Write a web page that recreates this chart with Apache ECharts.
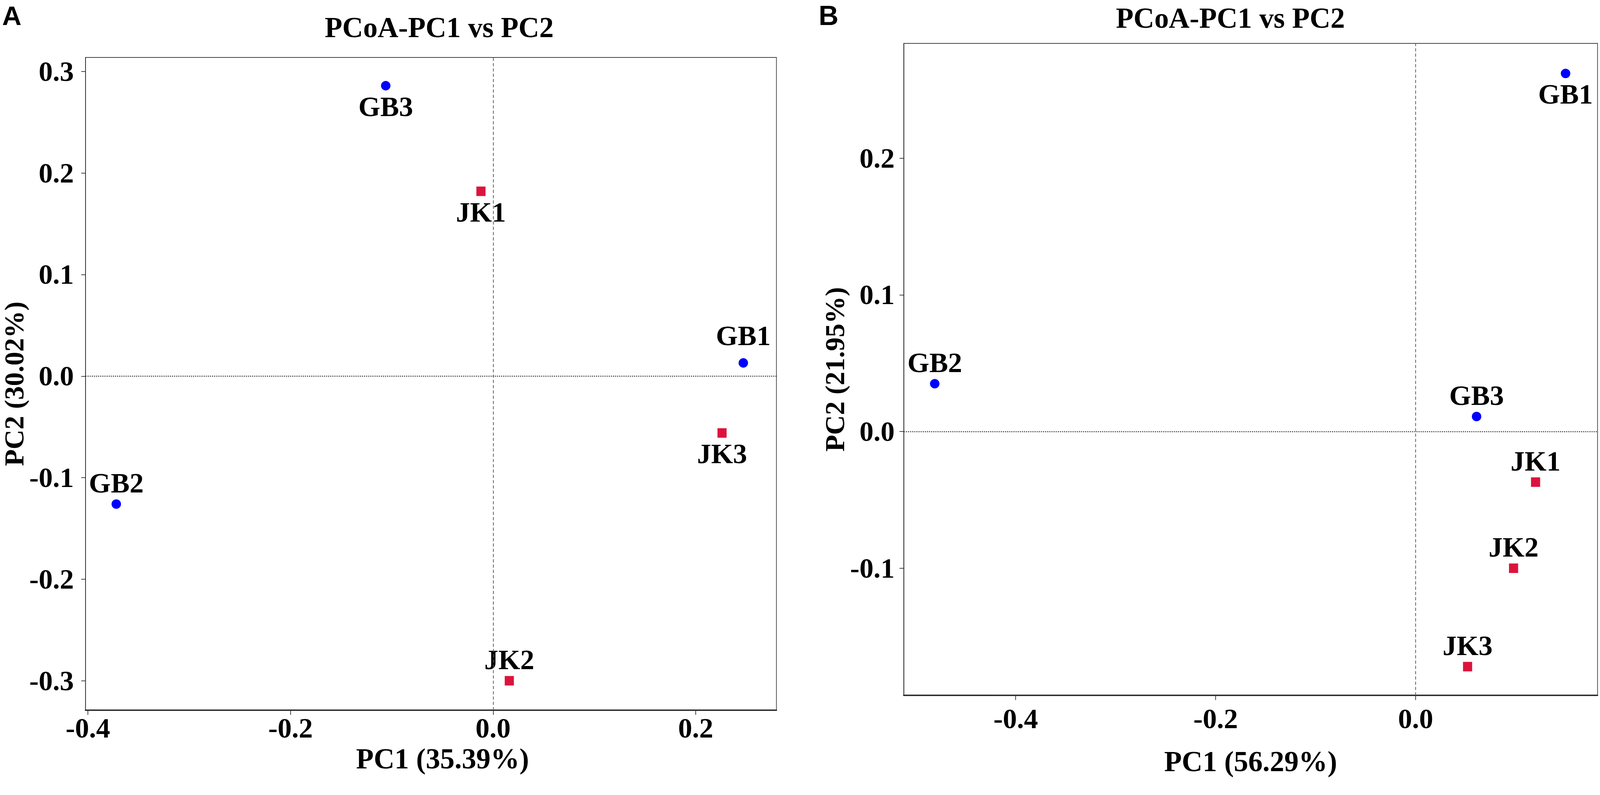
<!DOCTYPE html>
<html>
<head>
<meta charset="utf-8">
<title>PCoA-PC1 vs PC2</title>
<script src="https://cdn.jsdelivr.net/npm/echarts@6/dist/echarts.min.js"></script>
<style>
  html, body { margin: 0; padding: 0; background: #fff; overflow: hidden; }
  #chart { width: 100vw; height: 100vh; }
</style>
</head>
<body>
<div id="chart"></div>
<script>
// sample names, same order in both panels
const sampleNames = ['GB1', 'GB2', 'GB3', 'JK1', 'JK2', 'JK3'];

// panel A
const pc1A = [0.247, -0.372, -0.106, -0.012, 0.016, 0.226];
const pc2A = [0.013, -0.126, 0.286, 0.182, -0.300, -0.056];
const labelPosA = ['top', 'top', 'bottom', 'bottom', 'top', 'bottom'];
const xTicksA = [-0.4, -0.2, 0.0, 0.2];
const yTicksA = [-0.3, -0.2, -0.1, 0.0, 0.1, 0.2, 0.3];

// panel B
const pc1B = [0.150, -0.481, 0.061, 0.120, 0.098, 0.052];
const pc2B = [0.262, 0.035, 0.011, -0.037, -0.100, -0.172];
const labelPosB = ['bottom', 'top', 'top', 'top', 'top', 'top'];
const xTicksB = [-0.4, -0.2, 0.0];
const yTicksB = [-0.1, 0.0, 0.1, 0.2];

const titleText = 'PCoA-PC1 vs PC2';
const xNameA = 'PC1 (35.39%)', yNameA = 'PC2 (30.02%)';
const xNameB = 'PC1 (56.29%)', yNameB = 'PC2 (21.95%)';

const FONT = 'Liberation Serif';
const GB_COLOR = '#0000FF';
const JK_COLOR = '#DC143C';

const el = document.getElementById('chart');
const chart = echarts.init(el, null, { renderer: 'svg' });

// layout was measured on a 4550 x 2034 page; scale to whatever the viewport is
const W = el.clientWidth || window.innerWidth;
const H = el.clientHeight || window.innerHeight;
const sx = W / 4550, sy = H / 2034, s = Math.min(sx, sy);
const X = v => v * sx, Y = v => v * sy, S = v => v * s;

const textStyle = { fontFamily: FONT, fontWeight: 'bold', fontSize: S(80), color: '#000' };

// split one panel's samples into the GB / JK groups
const makeGroup = (prefix, pc1, pc2, pos, extra) => {
  const out = [];
  sampleNames.forEach((n, i) => {
    if (n.indexOf(prefix) !== 0) return;
    const item = { name: n, value: [pc1[i], pc2[i]], label: { position: pos[i] } };
    if (extra[n]) Object.assign(item.label, extra[n]);
    out.push(item);
  });
  return out;
};

const zeroLines = {
  silent: true,
  symbol: ['none', 'none'],
  label: { show: false },
  animation: false,
  data: [
    { xAxis: 0, lineStyle: { color: '#555', width: S(2), type: [S(9), S(6)] } },
    { yAxis: 0, lineStyle: { color: '#333', width: S(3), type: [S(3), S(3)] } }
  ]
};

const pointLabel = {
  show: true,
  formatter: '{b}',
  distance: S(6),
  ...textStyle
};

const makeSeries = (idx, pc1, pc2, pos, extra) => [
  {
    type: 'scatter',
    xAxisIndex: idx, yAxisIndex: idx,
    symbol: 'circle',
    symbolSize: S(27),
    itemStyle: { color: GB_COLOR, opacity: 1 },
    label: pointLabel,
    data: makeGroup('GB', pc1, pc2, pos, extra),
    markLine: zeroLines
  },
  {
    type: 'scatter',
    xAxisIndex: idx, yAxisIndex: idx,
    symbol: 'rect',
    symbolSize: [S(26), S(27)],
    itemStyle: { color: JK_COLOR, opacity: 1 },
    label: pointLabel,
    data: makeGroup('JK', pc1, pc2, pos, extra)
  }
];

const xAxisBase = (grid, min, max, ticks, name, nameGap, labelMargin, namePad) => ({
  type: 'value',
  gridIndex: grid,
  min: min, max: max,
  name: name,
  nameLocation: 'middle',
  nameGap: Y(nameGap),
  nameTextStyle: { ...textStyle, fontSize: S(82), padding: [0, 0, 0, X(namePad)] },
  splitLine: { show: false },
  axisLine: { show: true, onZero: false, lineStyle: { color: '#222', width: S(4) } },
  axisTick: { show: true, length: Y(12), customValues: ticks, lineStyle: { color: '#333', width: S(2) } },
  axisLabel: {
    customValues: ticks, margin: Y(labelMargin),
    formatter: v => v.toFixed(1), ...textStyle
  }
});

const yAxisBase = (grid, min, max, ticks, name, nameGap, labelMargin) => ({
  type: 'value',
  gridIndex: grid,
  min: min, max: max,
  name: name,
  nameLocation: 'middle',
  nameGap: X(nameGap),
  nameRotate: 90,
  nameTextStyle: { ...textStyle, fontSize: S(78), lineHeight: S(78) },
  splitLine: { show: false },
  axisLine: { show: true, onZero: false, lineStyle: { color: '#333', width: S(2) } },
  axisTick: { show: true, length: X(12), customValues: ticks, lineStyle: { color: '#333', width: S(2) } },
  axisLabel: {
    customValues: ticks, margin: X(labelMargin),
    formatter: v => v.toFixed(1), ...textStyle
  }
});

const titleFont = 'bold ' + S(82) + 'px "Liberation Serif"';

chart.setOption({
  animation: false,
  backgroundColor: '#fff',
  graphic: [
    { type: 'text', left: X(6), top: Y(6), style: { text: 'A', font: 'bold ' + S(76) + 'px "Liberation Sans"', fill: '#000' } },
    { type: 'text', left: X(2328), top: Y(4), style: { text: 'B', font: 'bold ' + S(78) + 'px "Liberation Sans"', fill: '#000' } },
    { type: 'text', x: X(1249), y: Y(70), style: { text: titleText, font: titleFont, fill: '#000', align: 'center', verticalAlign: 'middle' } },
    { type: 'text', x: X(3499), y: Y(46), style: { text: titleText, font: titleFont, fill: '#000', align: 'center', verticalAlign: 'middle' } }
  ],
  grid: [
    { left: X(224), top: Y(147), width: X(1984), height: Y(1670), show: true, borderColor: '#444', borderWidth: S(2) },
    { left: X(2570), top: Y(111), width: X(1973), height: Y(1668), show: true, borderColor: '#444', borderWidth: S(2) }
  ],
  xAxis: [
    xAxisBase(0, -0.4024, 0.2797, xTicksA, xNameA, 86, 10, 66),
    xAxisBase(1, -0.512, 0.182, xTicksB, xNameB, 132, 24, 0)
  ],
  yAxis: [
    yAxisBase(0, -0.329, 0.3138, yTicksA, yNameA, 124, 33),
    yAxisBase(1, -0.193, 0.284, yTicksB, yNameB, 140, 26)
  ],
  series: [
    ...makeSeries(0, pc1A, pc2A, labelPosA, { GB1: { distance: S(24) } }),
    ...makeSeries(1, pc1B, pc2B, labelPosB, {})
  ]
});
</script>
</body>
</html>
